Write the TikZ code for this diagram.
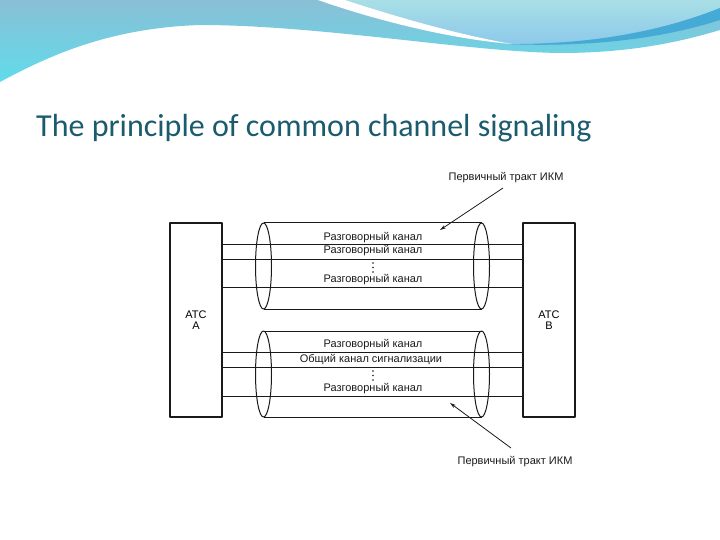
\documentclass[tikz,border=0pt]{standalone}
\usepackage{fontspec}
\setmainfont{Liberation Sans}
\newfontfamily\titlefont{Carlito}
\usetikzlibrary{arrows.meta}
\definecolor{titlecol}{HTML}{1B5B6E}
\definecolor{ink}{HTML}{1A1A1A}
\definecolor{wavetop}{HTML}{8ABFD6}
\definecolor{wavebot}{HTML}{5FDCEA}
\definecolor{paletop}{HTML}{A8DFE6}
\definecolor{palebot}{HTML}{8DC9EA}
\definecolor{streak}{HTML}{45AAD6}
\newcommand{\diagfont}{\fontsize{11}{11.5}\selectfont}
\tikzset{
  box/.style={draw=ink, line width=1.3pt, minimum width=52pt, minimum height=194pt, inner sep=0pt, align=center, font=\diagfont},
  chan/.style={draw=ink, line width=1pt},
  cyl/.style={draw=ink, line width=1pt},
  lbl/.style={font=\diagfont, inner sep=0pt, text=ink},
  ptr/.style={draw=ink, line width=0.8pt, -{Stealth[length=6pt,width=3.5pt]}},
  dotc/.style={fill=ink}
}
\begin{document}
\begin{tikzpicture}[x=1pt,y=-1pt,line join=round]
\useasboundingbox (0,0) rectangle (720,540);
\fill[white] (0,0) rectangle (720,540);
% header wave
\shade[top color=wavetop, bottom color=wavebot]
  (0,0) -- (720,0) -- (720,30) .. controls (680,42) and (630,53) .. (560,53)
  .. controls (470,52) and (320,25) .. (200,25)
  .. controls (110,28) and (50,55) .. (0,82) -- cycle;
\shade[top color=paletop, bottom color=palebot]
  (345,0) .. controls (400,18) and (460,35) .. (512,44)
  .. controls (600,44) and (670,28) .. (720,8) -- (720,0) -- cycle;
\fill[streak] (505,44) .. controls (600,45) and (670,28) .. (720,8) -- (720,20)
  .. controls (670,36) and (600,48) .. (505,44) -- cycle;
\fill[white] (318,0) -- (345,0) .. controls (400,18) and (460,35) .. (512,44)
  .. controls (450,39) and (375,20) .. (318,0) -- cycle;
% title
\node[anchor=base west, font=\titlefont\fontsize{32}{34}\selectfont, text=titlecol, inner sep=0pt] (title) at (36,137) {The principle of common channel signaling};
% exchanges
\node[box] (A) at (196,320) {АТС\\А};
\node[box] (B) at (549,320) {АТС\\В};
% cylinders
\coordinate (c1l) at (263.5,266);
\coordinate (c1r) at (481.5,266);
\coordinate (c2l) at (263.5,374);
\coordinate (c2r) at (481.5,374);
\draw[cyl] ([yshift=-43pt]c1l) -- ([yshift=-43pt]c1r) ([yshift=43pt]c1l) -- ([yshift=43pt]c1r);
\draw[cyl] (c1l) ellipse [x radius=8, y radius=43];
\draw[cyl] (c1r) ellipse [x radius=8, y radius=43];
\draw[cyl] ([yshift=-43pt]c2l) -- ([yshift=-43pt]c2r) ([yshift=43pt]c2l) -- ([yshift=43pt]c2r);
\draw[cyl] (c2l) ellipse [x radius=8, y radius=43];
\draw[cyl] (c2r) ellipse [x radius=8, y radius=43];
% channels
\foreach \y in {244.5,259,287.5,352.5,367,396}
  \draw[chan] (A.east |- 0,\y) -- (B.west |- 0,\y);
% labels
\node[lbl] (u1) at (373,237.5) {Разговорный канал};
\node[lbl] (u2) at (373,251) {Разговорный канал};
\node[lbl] (u3) at (373,279.5) {Разговорный канал};
\node[lbl] (d1) at (373,345) {Разговорный канал};
\node[lbl] (d2) at (371,359.5) {Общий канал сигнализации};
\node[lbl] (d3) at (373,388.5) {Разговорный канал};
\foreach \y in {263,267.5,272,371,375.5,380}
  \fill[dotc] (373,\y) circle (0.9pt);
\node[lbl] (p1) at (506,178) {Первичный тракт ИКМ};
\node[lbl] (p2) at (515,462) {Первичный тракт ИКМ};
\coordinate (p1s) at (503,188);
\coordinate (p1e) at (440,230);
\coordinate (p2s) at (511,448);
\coordinate (p2e) at (450,403);
\draw[ptr] (p1s) -- (p1e);
\draw[ptr] (p2s) -- (p2e);
\end{tikzpicture}
\end{document}
